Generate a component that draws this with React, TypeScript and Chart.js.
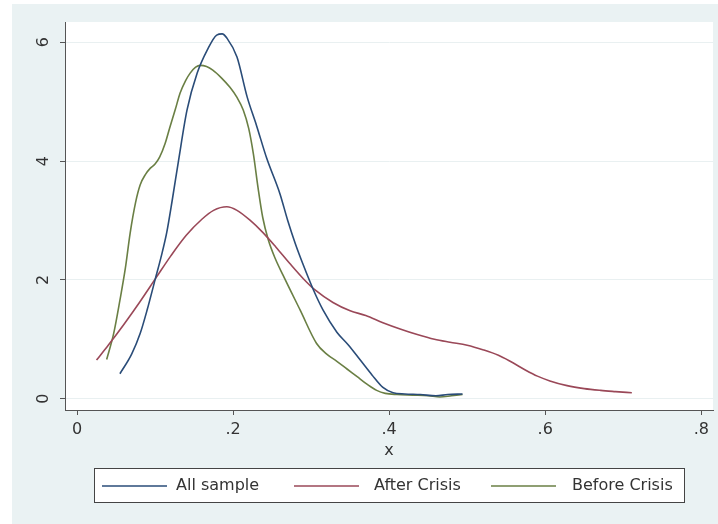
import React, { useEffect, useRef } from "react";
import { Chart, registerables } from "chart.js";

Chart.register(...registerables);

// ---- data ----
const allSampleX = [0.055, 0.07, 0.081, 0.09, 0.1, 0.108, 0.115, 0.122, 0.13, 0.141, 0.154, 0.167, 0.179, 0.186, 0.192, 0.205, 0.218, 0.23, 0.243, 0.26, 0.27, 0.28, 0.29, 0.303, 0.315, 0.333, 0.348, 0.363, 0.378, 0.392, 0.405, 0.42, 0.44, 0.46, 0.475, 0.494];
const allSampleY = [0.42, 0.75, 1.1, 1.5, 2.0, 2.4, 2.8, 3.34, 4.0, 4.86, 5.48, 5.87, 6.12, 6.14, 6.07, 5.75, 5.08, 4.6, 4.05, 3.45, 3.0, 2.6, 2.25, 1.83, 1.5, 1.12, 0.9, 0.65, 0.4, 0.19, 0.1, 0.08, 0.07, 0.05, 0.07, 0.08];

const afterCrisisX = [0.025, 0.04, 0.06, 0.08, 0.102, 0.12, 0.14, 0.16, 0.175, 0.192, 0.205, 0.222, 0.238, 0.255, 0.273, 0.29, 0.305, 0.328, 0.35, 0.37, 0.392, 0.415, 0.436, 0.458, 0.478, 0.5, 0.521, 0.54, 0.555, 0.575, 0.59, 0.606, 0.628, 0.65, 0.671, 0.69, 0.711];
const afterCrisisY = [0.65, 0.9, 1.25, 1.62, 2.05, 2.4, 2.75, 3.02, 3.17, 3.23, 3.17, 3.0, 2.8, 2.55, 2.27, 2.02, 1.83, 1.62, 1.48, 1.4, 1.28, 1.17, 1.08, 1.0, 0.95, 0.9, 0.82, 0.73, 0.63, 0.48, 0.38, 0.3, 0.22, 0.17, 0.14, 0.12, 0.1];

const beforeCrisisX = [0.038, 0.047, 0.055, 0.062, 0.068, 0.075, 0.081, 0.088, 0.094, 0.1, 0.106, 0.113, 0.119, 0.126, 0.132, 0.139, 0.145, 0.152, 0.158, 0.166, 0.174, 0.185, 0.196, 0.205, 0.213, 0.22, 0.226, 0.232, 0.238, 0.245, 0.254, 0.264, 0.286, 0.307, 0.32, 0.333, 0.346, 0.359, 0.372, 0.384, 0.395, 0.41, 0.43, 0.45, 0.465, 0.48, 0.494];
const beforeCrisisY = [0.66, 1.1, 1.66, 2.2, 2.78, 3.3, 3.6, 3.78, 3.88, 3.95, 4.07, 4.3, 4.57, 4.87, 5.14, 5.35, 5.48, 5.58, 5.61, 5.59, 5.53, 5.4, 5.24, 5.07, 4.86, 4.55, 4.12, 3.55, 3.05, 2.68, 2.36, 2.08, 1.49, 0.93, 0.75, 0.63, 0.5, 0.37, 0.24, 0.14, 0.09, 0.07, 0.06, 0.05, 0.03, 0.05, 0.07];

const seriesLabels = ["All sample", "After Crisis", "Before Crisis"];
const seriesColors = ["#2a4c78", "#9a4858", "#6a7f44"];

const xTicks = [0, 0.2, 0.4, 0.6, 0.8];
const xTickLabels = ["0", ".2", ".4", ".6", ".8"];
const yTicks = [0, 2, 4, 6];
const yTickLabels = ["0", "2", "4", "6"];
const xTitle = "x";

const FONT = "'DejaVu Sans', 'Liberation Sans', Arial, sans-serif";
const TEXT = "#333333";
const AXIS = "#555555";

const bgPlugin = {
  id: "bgPlugin",
  beforeDraw(chart: any) {
    const { ctx, chartArea } = chart;
    ctx.save();
    ctx.fillStyle = "#ffffff";
    ctx.fillRect(0, 0, chart.width, chart.height);
    ctx.fillStyle = "#eaf2f3";
    ctx.fillRect(12, 4, chart.width - 12, chart.height - 4);
    ctx.fillStyle = "#ffffff";
    ctx.fillRect(chartArea.left, chartArea.top, chartArea.right - chartArea.left, chartArea.bottom - chartArea.top);
    ctx.restore();
  },
};

const yLabelPlugin = {
  id: "yLabelPlugin",
  afterDraw(chart: any) {
    const { ctx } = chart;
    const ys = chart.scales.y;
    ctx.save();
    ctx.fillStyle = TEXT;
    ctx.font = `16px ${FONT}`;
    ctx.textAlign = "center";
    ctx.textBaseline = "middle";
    yTicks.forEach((v, i) => {
      const py = ys.getPixelForValue(v);
      ctx.save();
      ctx.translate(44, py);
      ctx.rotate(-Math.PI / 2);
      ctx.fillText(yTickLabels[i], 0, 0);
      ctx.restore();
    });
    ctx.restore();
  },
};

const legendPlugin = {
  id: "legendPlugin",
  afterDraw(chart: any) {
    const { ctx } = chart;
    ctx.save();
    ctx.fillStyle = "#ffffff";
    ctx.fillRect(94.5, 468.5, 590, 34);
    ctx.strokeStyle = "#444444";
    ctx.lineWidth = 1;
    ctx.strokeRect(94.5, 468.5, 590, 34);
    const lineStarts = [102, 294, 491];
    const lineLen = 65;
    const textStarts = [176, 374, 572];
    const ly = 486;
    ctx.font = `16px ${FONT}`;
    ctx.textBaseline = "middle";
    ctx.textAlign = "left";
    chart.data.datasets.forEach((ds: any, i: number) => {
      ctx.strokeStyle = ds.borderColor;
      ctx.lineWidth = 1.6;
      ctx.beginPath();
      ctx.moveTo(lineStarts[i], ly);
      ctx.lineTo(lineStarts[i] + lineLen, ly);
      ctx.stroke();
      ctx.fillStyle = TEXT;
      ctx.fillText(ds.label, textStarts[i], ly);
    });
    ctx.restore();
  },
};

function toPoints(xs: number[], ys: number[]) {
  return xs.map((x, i) => ({ x, y: ys[i] }));
}

export default function App() {
  const ref = useRef<HTMLCanvasElement | null>(null);

  useEffect(() => {
    if (!ref.current) return;
    const seriesX = [allSampleX, afterCrisisX, beforeCrisisX];
    const seriesY = [allSampleY, afterCrisisY, beforeCrisisY];
    const chart = new Chart(ref.current, {
      type: "line",
      data: {
        datasets: seriesLabels.map((label, i) => ({
          label,
          data: toPoints(seriesX[i], seriesY[i]),
          borderColor: seriesColors[i],
          backgroundColor: seriesColors[i],
          borderWidth: 1.6,
          pointRadius: 0,
          fill: false,
          cubicInterpolationMode: "monotone" as const,
        })),
      },
      options: {
        animation: false,
        responsive: false,
        maintainAspectRatio: false,
        layout: { padding: { left: 0, top: 22, right: 5, bottom: 0 } },
        plugins: {
          legend: { display: false },
          tooltip: { enabled: false },
        },
        scales: {
          x: {
            type: "linear",
            min: -0.0154,
            max: 0.815,
            afterBuildTicks: (s: any) => {
              s.ticks = xTicks.map((v) => ({ value: v }));
            },
            afterFit: (s: any) => {
              s.height = 114;
            },
            ticks: {
              callback: (v: any) => {
                const i = xTicks.findIndex((t) => Math.abs(t - v) < 1e-9);
                return i >= 0 ? xTickLabels[i] : "";
              },
              font: { family: FONT, size: 16 },
              color: TEXT,
              padding: 5,
              maxRotation: 0,
              minRotation: 0,
            },
            grid: { drawOnChartArea: false, tickLength: 5, tickColor: AXIS },
            border: { display: true, color: AXIS, width: 1 },
            title: {
              display: true,
              text: xTitle,
              font: { family: FONT, size: 16 },
              color: TEXT,
              padding: { top: 0, bottom: 64 },
            },
          },
          y: {
            type: "linear",
            min: -0.19,
            max: 6.34,
            afterBuildTicks: (s: any) => {
              s.ticks = yTicks.map((v) => ({ value: v }));
            },
            afterFit: (s: any) => {
              s.width = 65;
            },
            ticks: { display: true, color: "rgba(0,0,0,0)", font: { family: FONT, size: 16 } },
            grid: { color: "#e9f0f1", lineWidth: 1, tickLength: 5, tickColor: AXIS },
            border: { display: true, color: AXIS, width: 1 },
          },
        },
      },
      plugins: [bgPlugin, yLabelPlugin, legendPlugin],
    });
    return () => chart.destroy();
  }, []);

  return (
    <div style={{ position: "absolute", left: 0, top: 0, width: 718, height: 524 }}>
      <canvas ref={ref} width={718} height={524} style={{ width: 718, height: 524, display: "block" }} />
    </div>
  );
}
